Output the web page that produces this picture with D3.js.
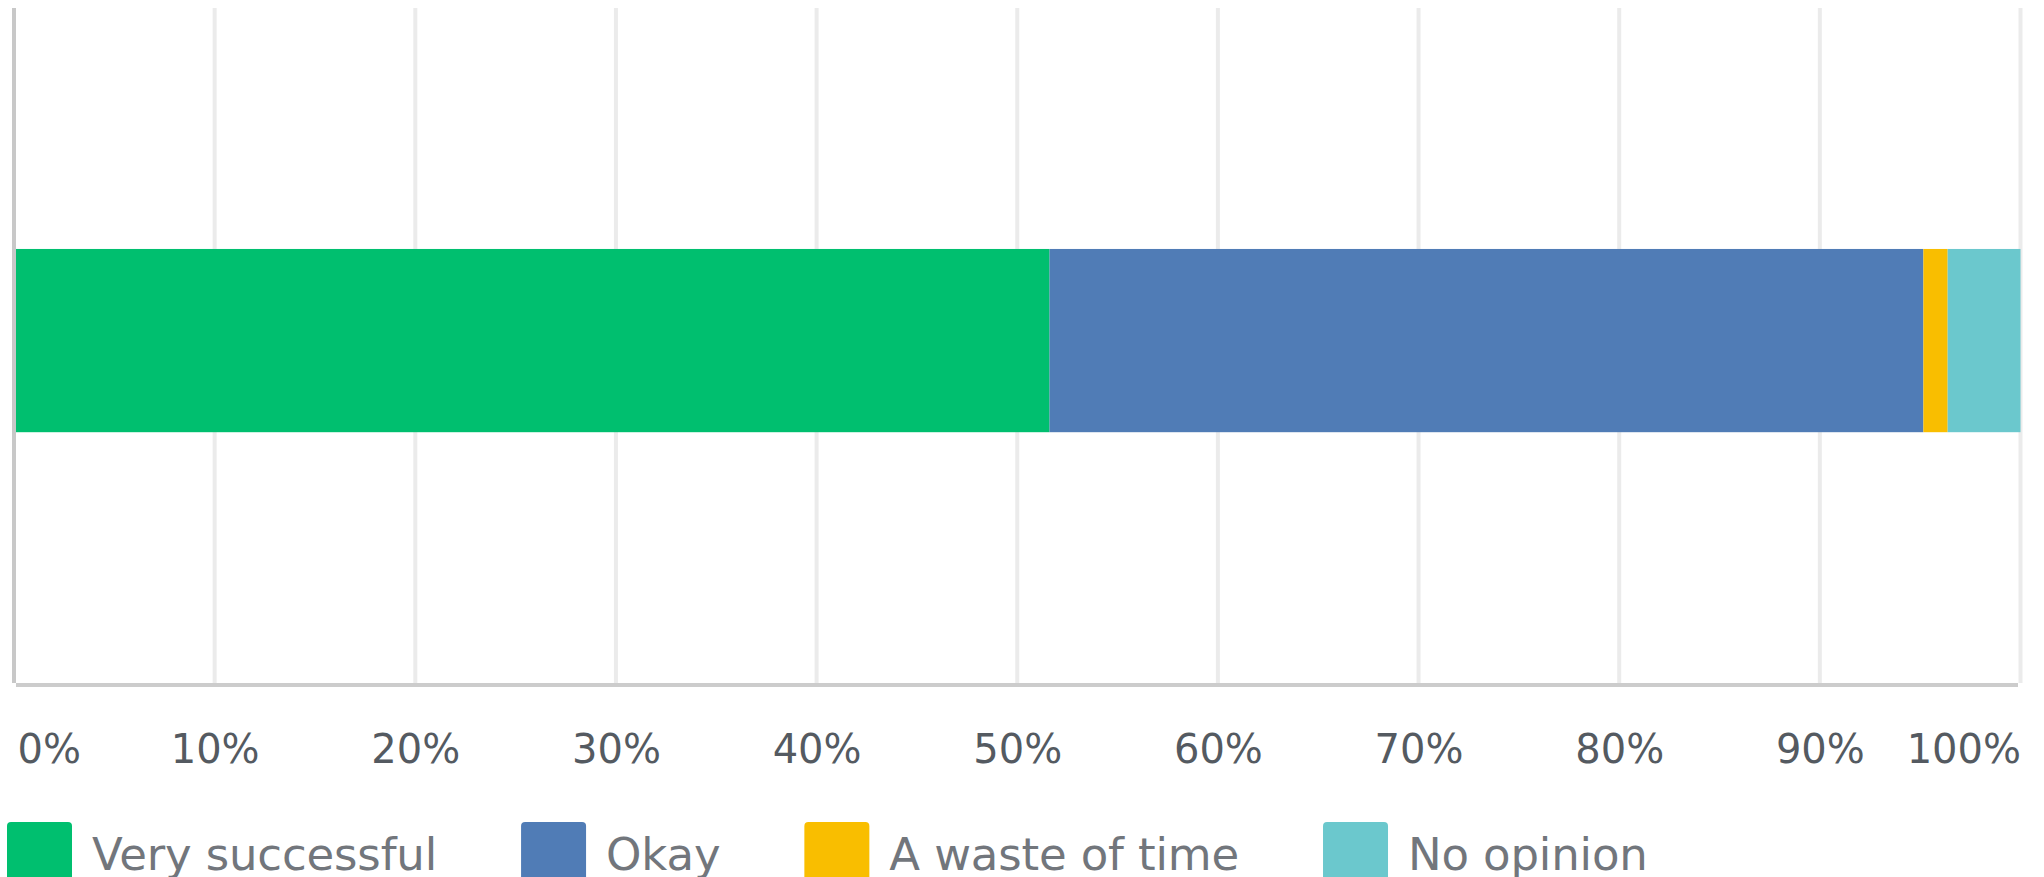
<!DOCTYPE html>
<html>
<head>
<meta charset="utf-8">
<script src="https://cdn.jsdelivr.net/npm/d3@7"></script>
<style>
  html, body { margin: 0; padding: 0; background: #fff; }
  svg { display: block; }
  text { font-family: "DejaVu Sans", sans-serif; }
</style>
</head>
<body>
<script>
// answer categories and their share of responses (%)
const answers = ["Very successful", "Okay", "A waste of time", "No opinion"];
const shares = [51.61, 43.55, 1.21, 3.63];
const colors = ["#00bf6f", "#507cb6", "#f9be00", "#6bc8cd"];
const tickValues = [0, 10, 20, 30, 40, 50, 60, 70, 80, 90, 100];
const question = ["Q1"];

const W = 2044, H = 877;
const plotTop = 8, plotBottom = 683;

const svg = d3.select("body").append("svg")
    .attr("width", W)
    .attr("height", H);

const x = d3.scaleLinear().domain([0, 100]).range([14, 2020.5]);
const y = d3.scaleBand().domain(question).range([plotTop, plotBottom])
    .padding(0.573).align(0.49);

// vertical gridlines
svg.append("g").selectAll("line")
    .data(tickValues.slice(1))
    .join("line")
    .attr("x1", d => x(d)).attr("x2", d => x(d))
    .attr("y1", plotTop).attr("y2", plotBottom)
    .attr("stroke", "#ebebeb")
    .attr("stroke-width", 4);

// stacked segments
let acc = 0;
const segs = shares.map((v, i) => {
    const s = { start: acc, end: acc + v, color: colors[i] };
    acc += v;
    return s;
});
svg.append("g").selectAll("rect")
    .data(segs)
    .join("rect")
    .attr("x", d => x(d.start))
    .attr("width", d => x(d.end) - x(d.start))
    .attr("y", y("Q1"))
    .attr("height", y.bandwidth())
    .attr("fill", d => d.color);

// axis lines
svg.append("rect")
    .attr("x", 12).attr("y", plotTop)
    .attr("width", 4).attr("height", plotBottom - plotTop)
    .attr("fill", "#c8c8c8");
svg.append("rect")
    .attr("x", 16).attr("y", plotBottom)
    .attr("width", 2018 - 16).attr("height", 4)
    .attr("fill", "#cccccc");

// tick labels
const axis = svg.append("g")
    .attr("transform", `translate(0,${plotBottom})`)
    .call(d3.axisBottom(x).tickValues(tickValues).tickSize(0).tickFormat(d => d + "%"));
axis.select(".domain").remove();
axis.selectAll("text")
    .attr("y", 80)
    .attr("dy", 0)
    .attr("fill", "#545a61")
    .style("font-size", "40px")
    .style("font-family", "'DejaVu Sans', sans-serif")
    .attr("text-anchor", (d, i) => i === 0 ? "start" : (i === tickValues.length - 1 ? "end" : "middle"))
    .attr("dx", (d, i) => i === 0 ? 3 : 0);

// legend
const legend = svg.append("g");
let lx = 7;
answers.forEach((name, i) => {
    legend.append("rect")
        .attr("x", lx).attr("y", 822)
        .attr("width", 65).attr("height", 62)
        .attr("rx", 4)
        .attr("fill", colors[i]);
    const t = legend.append("text")
        .attr("x", lx + 85)
        .attr("y", 870)
        .attr("fill", "#72767c")
        .style("font-size", "45px")
        .style("letter-spacing", "-0.15px")
        .text(name);
    lx += 85 + t.node().getComputedTextLength() + 84;
});
</script>
</body>
</html>
